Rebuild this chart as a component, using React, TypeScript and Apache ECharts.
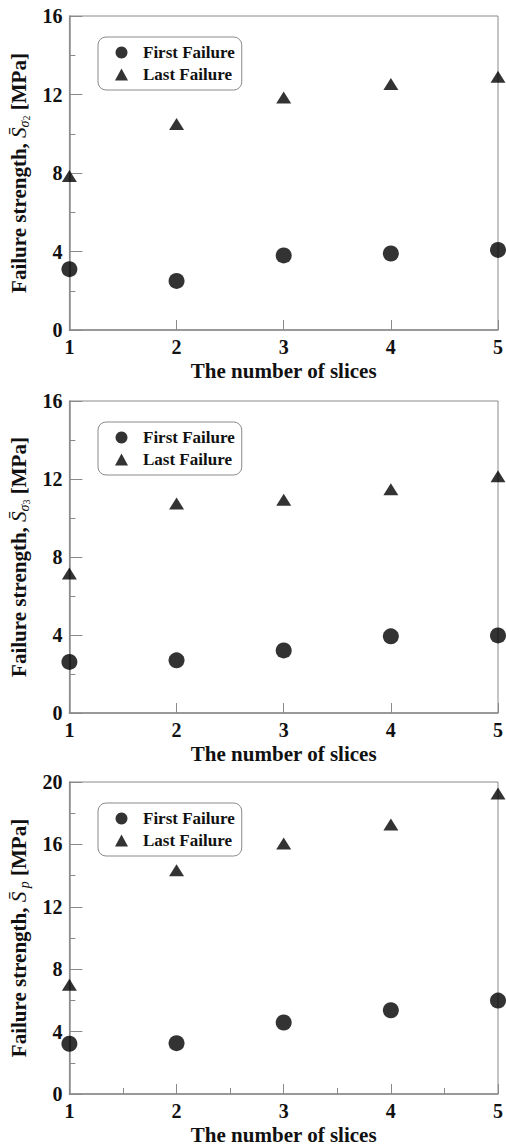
import React, { useEffect, useRef } from "react";
import * as echarts from "echarts";

const slices = [1, 2, 3, 4, 5];
const firstS2 = [3.1, 2.5, 3.8, 3.9, 4.08];
const lastS2 = [7.85, 10.5, 11.85, 12.53, 12.9];
const firstS3 = [2.62, 2.7, 3.21, 3.93, 3.98];
const lastS3 = [7.15, 10.74, 10.94, 11.47, 12.14];
const firstSp = [3.22, 3.26, 4.58, 5.37, 5.99];
const lastSp = [7.01, 14.35, 16.06, 17.27, 19.26];
const yMax = [16, 16, 20];
const legendNames = ["First Failure", "Last Failure"];

const FONT = "'Liberation Serif', 'Times New Roman', serif";
const AX = "#8a8a8a";
const INK = "#111";

const gridTops = [16, 401, 782];
const gridHeights = [314, 312, 312];

const nameRich = {
  b: { fontFamily: FONT, fontWeight: "bold", fontSize: 21, color: INK, lineHeight: 26 },
  s: { fontFamily: FONT, fontStyle: "italic", fontSize: 21, color: INK, lineHeight: 26 },
  sub: { fontFamily: FONT, fontStyle: "italic", fontSize: 14, color: INK, lineHeight: 26, verticalAlign: "bottom" },
  sub2: { fontFamily: FONT, fontSize: 10, color: INK, lineHeight: 26, verticalAlign: "bottom" },
};

const yNames = [
  "{b|Failure strength, }{s|S\u0304}{sub|σ}{sub2|2}{b| [MPa]}",
  "{b|Failure strength, }{s|S\u0304}{sub|σ}{sub2|3}{b| [MPa]}",
  "{b|Failure strength, }{s|S\u0304}{sub| p}{b| [MPa]}",
];

export default function App() {
  const ref = useRef<HTMLDivElement>(null);
  useEffect(() => {
    document.body.style.margin = "0";
    document.body.style.overflow = "hidden";
    document.documentElement.style.overflow = "hidden";
    const chart = echarts.init(ref.current!, null, { renderer: "svg" });
    const firsts = [firstS2, firstS3, firstSp];
    const lasts = [lastS2, lastS3, lastSp];
    const grids = gridTops.map((t, i) => ({
      left: 64,
      right: 3,
      top: t,
      height: gridHeights[i],
      show: true,
      borderColor: AX,
      borderWidth: 1,
    }));
    const xAxes = gridTops.map((_, i) => ({
      type: "value",
      gridIndex: i,
      min: 1,
      max: 5,
      interval: 1,
      name: "The number of slices",
      nameLocation: "middle",
      nameGap: 30,
      nameTextStyle: { fontFamily: FONT, fontWeight: "bold", fontSize: 21, color: INK },
      axisLine: { show: true, lineStyle: { color: AX, width: 1.5 } },
      axisTick: { show: true, inside: true, length: 10, lineStyle: { color: AX } },
      minorTick: { show: i === 2, splitNumber: 2, length: 6, lineStyle: { color: AX } },
      splitLine: { show: false },
      axisLabel: { fontFamily: FONT, fontWeight: "bold", fontSize: 20, color: INK, margin: 7 },
    }));
    const yAxes = gridTops.map((_, i) => ({
      type: "value",
      gridIndex: i,
      min: 0,
      max: yMax[i],
      interval: 4,
      name: yNames[i],
      nameLocation: "middle",
      nameGap: 33,
      nameTextStyle: { rich: nameRich },
      axisLine: { show: true, lineStyle: { color: AX, width: 1.5 } },
      axisTick: { show: true, inside: true, length: 13, lineStyle: { color: AX } },
      minorTick: { show: true, splitNumber: 2, length: 6, lineStyle: { color: AX } },
      splitLine: { show: false },
      axisLabel: { fontFamily: FONT, fontWeight: "bold", fontSize: 20, color: INK, margin: 7 },
    }));
    const series: any[] = [];
    gridTops.forEach((_, i) => {
      series.push({
        type: "scatter",
        name: legendNames[0],
        xAxisIndex: i,
        yAxisIndex: i,
        symbol: "circle",
        symbolSize: 16,
        clip: false,
        itemStyle: { color: "#000" },
        data: slices.map((x, k) => [x, firsts[i][k]]),
      });
      series.push({
        type: "scatter",
        name: legendNames[1],
        xAxisIndex: i,
        yAxisIndex: i,
        symbol: "triangle",
        symbolSize: [15, 12],
        clip: false,
        itemStyle: { color: "#000" },
        data: slices.map((x, k) => [x, lasts[i][k]]),
      });
    });
    const legends = gridTops.map((t) => ({
      data: [
        { name: legendNames[0], icon: "circle" },
        { name: legendNames[1], icon: "triangle" },
      ],
      orient: "vertical",
      left: 98,
      top: t + 21,
      width: 147,
      itemWidth: 13,
      itemHeight: 12,
      itemGap: 5,
      padding: [7, 7, 7, 17],
      borderColor: AX,
      borderWidth: 1,
      borderRadius: 8,
      selectedMode: false,
      formatter: "{t|{name}}",
      textStyle: {
        rich: {
          t: { fontFamily: FONT, fontWeight: "bold", fontSize: 17, color: INK, lineHeight: 17, padding: [0, 0, 0, 10] },
        },
      },
    }));
    chart.setOption({
      animation: false,
      backgroundColor: "#fff",
      grid: grids,
      xAxis: xAxes,
      yAxis: yAxes,
      legend: legends,
      series,
    });
    return () => chart.dispose();
  }, []);
  return <div ref={ref} style={{ width: 506, height: 1146 }} />;
}
